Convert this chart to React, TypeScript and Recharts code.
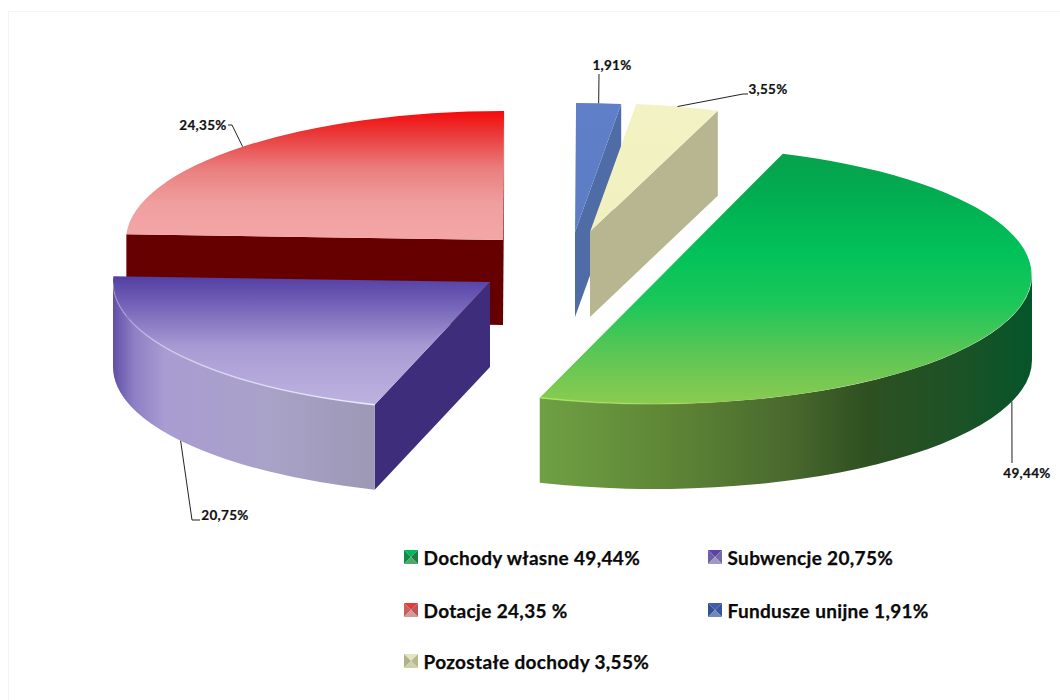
import React from 'react';
import { PieChart, Pie, Legend } from 'recharts';

const categories = ['Dotacje', 'Fundusze unijne', 'Pozostałe dochody', 'Dochody własne', 'Subwencje'];
const values = [24.35, 1.91, 3.55, 49.44, 20.75];
const legendTexts = ['Dotacje 24,35 %', 'Fundusze unijne 1,91%', 'Pozostałe dochody 3,55%', 'Dochody własne 49,44%', 'Subwencje 20,75%'];

const pieData = categories.map((name, i) => ({ name, value: values[i], legend: legendTexts[i] }));

const W = 1060, H = 700;
const RX = 377, RY = 129, DEPTH = 85;
const START = 177.5;

type Style = {
  center: [number, number];
  top: [number, string][];
  side?: [number, string][];
  cut: string;
  rim?: [number, string, number][];
  icon: [string, string, string, string];
  leader: [number, number][];
  text: [number, number];
  legendPos: [number, number];
};

const styles: Record<string, Style> = {
  'Dotacje': {
    center: [503, 240],
    top: [[0, '#f50a0a'], [0.18, '#ea3a3a'], [0.45, '#ea7f7f'], [0.72, '#f09f9f'], [1, '#f4a6a6']],
    cut: '#660000',
    icon: ['#e83a3a', '#c86060', '#b85858', '#d89898'],
    leader: [[232, 125], [228, 125]],
    text: [203, 125],
    legendPos: [404, 610],
  },
  'Fundusze unijne': {
    center: [575, 232],
    top: [[0, '#5f80c8'], [1, '#5c7cc6']],
    cut: '#506ca6',
    icon: ['#3f5da8', '#35508f', '#3a5698', '#7088bc'],
    leader: [[599, 74]],
    text: [612, 65],
    legendPos: [708, 610],
  },
  'Pozostałe dochody': {
    center: [590, 232],
    top: [[0, '#f2f2c4'], [1, '#f0f0bf']],
    cut: '#b7b691',
    icon: ['#e4e4c0', '#b0b08c', '#b8b890', '#cfcfa8'],
    leader: [[743, 94], [748, 94]],
    text: [768, 89],
    legendPos: [404, 661],
  },
  'Dochody własne': {
    center: [655, 275],
    top: [[0, '#06a24c'], [0.15, '#02ab50'], [0.4, '#02c259'], [0.6, '#1cc75a'], [0.8, '#5cc655'], [1, '#8ccb50']],
    side: [[0, '#6fa044'], [0.25, '#5f8736'], [0.5, '#4a6a2e'], [0.66, '#2f5021'], [0.85, '#1c5226'], [1, '#06552a']],
    cut: '#1c5226',
    rim: [[0, '#a5e860', 1], [0.2, '#a5e860', 0.5], [0.4, '#a5e860', 0]],
    icon: ['#02b858', '#0c8c4a', '#1f7a44', '#4fa868'],
    leader: [[1012, 463]],
    text: [1027, 473],
    legendPos: [404, 557],
  },
  'Subwencje': {
    center: [490, 282],
    top: [[0, '#523ea3'], [0.25, '#7868bb'], [0.55, '#a89bd4'], [1, '#bdb3e0']],
    side: [[0, '#5f50a8'], [0.08, '#8d7fc4'], [0.2, '#a99cd2'], [0.6, '#a9a2c8'], [1, '#9c98b5']],
    cut: '#3d2d7b',
    rim: [[0, '#e4e0fa', 0.2], [0.3, '#e4e0fa', 0.6], [1, '#efecfe', 1]],
    icon: ['#5a42a8', '#6f5fa8', '#7868a8', '#a098c0'],
    leader: [[192, 520], [200, 520]],
    text: [225, 515],
    legendPos: [708, 557],
  },
};

const legendOrder = ['Dochody własne', 'Subwencje', 'Dotacje', 'Fundusze unijne', 'Pozostałe dochody'];

const FONT = 'Lato, "Open Sans", sans-serif';
const rad = (d: number) => (d * Math.PI) / 180;
const at = (c: [number, number], a: number, dy = 0): [number, number] => [
  c[0] + RX * Math.cos(rad(a)),
  c[1] - RY * Math.sin(rad(a)) + dy,
];
const fmt = (p: [number, number]) => `${p[0].toFixed(2)} ${p[1].toFixed(2)}`;

function Slice3D(props: any) {
  const { startAngle: s0, endAngle: e0, name, index } = props;
  const st = styles[name];
  if (!st) return null;
  let s = s0, e = e0;
  if (s > 180) { s -= 360; e -= 360; }
  const c = st.center;
  const topId = `top-${index}`;
  const sideId = `side-${index}`;
  const rimId = `rim-${index}`;
  const sweep = s - e;
  const large = sweep > 180 ? 1 : 0;
  const ps = at(c, s), pe = at(c, e);
  // a slice close to a half disc has a straight edge through the chord's midpoint
  const apex: [number, number] = sweep > 170 ? [(ps[0] + pe[0]) / 2, (ps[1] + pe[1]) / 2] : c;
  const topPath = `M ${fmt(apex)} L ${fmt(ps)} A ${RX} ${RY} 0 ${large} 1 ${fmt(pe)} Z`;
  const face = (a: number) => {
    const p = at(c, a);
    return `M ${fmt(c)} L ${fmt(p)} L ${fmt([p[0], p[1] + DEPTH])} L ${fmt([c[0], c[1] + DEPTH])} Z`;
  };
  const faces: string[] = [];
  if (Math.sin(rad(s + 90)) < 0) faces.push(face(s));
  if (Math.sin(rad(e - 90)) < 0) faces.push(face(e));
  const a1 = Math.min(s, 0);
  const a2 = Math.max(e, -180);
  const hasSide = a1 > a2;
  const sidePath = hasSide
    ? `M ${fmt(at(c, a1))} A ${RX} ${RY} 0 0 1 ${fmt(at(c, a2))} L ${fmt(at(c, a2, DEPTH))} A ${RX} ${RY} 0 0 0 ${fmt(at(c, a1, DEPTH))} Z`
    : '';
  const rimPath = hasSide ? `M ${fmt(at(c, a1))} A ${RX} ${RY} 0 0 1 ${fmt(at(c, a2))}` : '';
  return (
    <g>
      <defs>
        <linearGradient id={topId} x1="0" y1="0" x2="0" y2="1">
          {st.top.map(([o, col]) => <stop key={o} offset={o} stopColor={col} />)}
        </linearGradient>
        {st.side && (
          <linearGradient id={sideId} x1="0" y1="0" x2="1" y2="0">
            {st.side.map(([o, col]) => <stop key={o} offset={o} stopColor={col} />)}
          </linearGradient>
        )}
        {st.rim && (
          <linearGradient id={rimId} x1="0" y1="0" x2="1" y2="0">
            {st.rim.map(([o, col, op]) => <stop key={o} offset={o} stopColor={col} stopOpacity={op} />)}
          </linearGradient>
        )}
      </defs>
      {faces.map((d, i) => <path key={i} d={d} fill={st.cut} />)}
      {hasSide && <path d={sidePath} fill={`url(#${sideId})`} />}
      <path d={topPath} fill={`url(#${topId})`} />
      {hasSide && st.rim && <path d={rimPath} fill="none" stroke={`url(#${rimId})`} strokeWidth={1.5} />}
    </g>
  );
}

function SliceLabel(props: any) {
  const { name, midAngle, value } = props;
  const st = styles[name];
  if (!st) return null;
  const a = midAngle > 180 ? midAngle - 360 : midAngle;
  const anchor = at(st.center, a, Math.sin(rad(a)) < 0 ? DEPTH : 0);
  const pts = [anchor, ...st.leader].map((p) => `${p[0]},${p[1]}`).join(' ');
  return (
    <g>
      <polyline points={pts} fill="none" stroke="#222" strokeWidth={1} />
      <text x={st.text[0]} y={st.text[1]} textAnchor="middle" dominantBaseline="central"
        fontFamily={FONT} fontWeight={700} fontSize={13.5} letterSpacing={0.3}
        stroke="#111" strokeWidth={0.2} fill="#111">
        {`${value.toFixed(2).replace('.', ',')}%`}
      </text>
    </g>
  );
}

function LegendIcon({ colors }: { colors: [string, string, string, string] }) {
  const [t, l, r, b] = colors;
  return (
    <svg width={14} height={14} style={{ position: 'absolute', left: 0, top: -7, filter: 'blur(0.4px)' }}>
      <polygon points="0,0 14,0 7,7" fill={t} />
      <polygon points="0,0 0,14 7,7" fill={l} />
      <polygon points="14,0 14,14 7,7" fill={r} />
      <polygon points="0,14 14,14 7,7" fill={b} />
    </svg>
  );
}

function LegendBlock() {
  return (
    <div style={{ position: 'relative', width: 0, height: 0 }}>
      {legendOrder.map((n) => {
        const st = styles[n];
        const d = pieData.find((x) => x.name === n)!;
        return (
          <div key={n} style={{ position: 'absolute', left: st.legendPos[0], top: st.legendPos[1], whiteSpace: 'nowrap' }}>
            <LegendIcon colors={st.icon} />
            <span style={{
              position: 'absolute', left: 19.5, top: -12, lineHeight: '26px',
              fontFamily: FONT, fontWeight: 700, fontSize: 19, letterSpacing: 0.33, color: '#0a0a0a',
              WebkitTextStroke: '0.25px #0a0a0a',
            }}>{d.legend}</span>
          </div>
        );
      })}
    </div>
  );
}

export default function App() {
  return (
    <div style={{ position: 'absolute', left: 0, top: 0, width: W, height: H, background: '#fff', overflow: 'hidden' }}>
      <div style={{ position: 'absolute', left: 8, top: 11, width: W, height: H, borderLeft: '1px solid #f4f4f4', borderTop: '1px solid #f4f4f4' }} />
      <PieChart width={W} height={H} margin={{ top: 0, right: 0, bottom: 0, left: 0 }} style={{ position: 'absolute', left: 0, top: 0 }}>
        <Pie
          data={pieData}
          dataKey="value"
          nameKey="name"
          cx={530}
          cy={350}
          innerRadius={0}
          outerRadius={RX}
          startAngle={START}
          endAngle={START - 360}
          paddingAngle={0}
          stroke="none"
          isAnimationActive={false}
          shape={Slice3D}
          label={SliceLabel}
          labelLine={false}
          rootTabIndex={-1}
        />
        <Legend
          content={<LegendBlock />}
          wrapperStyle={{ position: 'absolute', left: 0, top: 0, width: 0, height: 0 }}
        />
      </PieChart>
    </div>
  );
}
